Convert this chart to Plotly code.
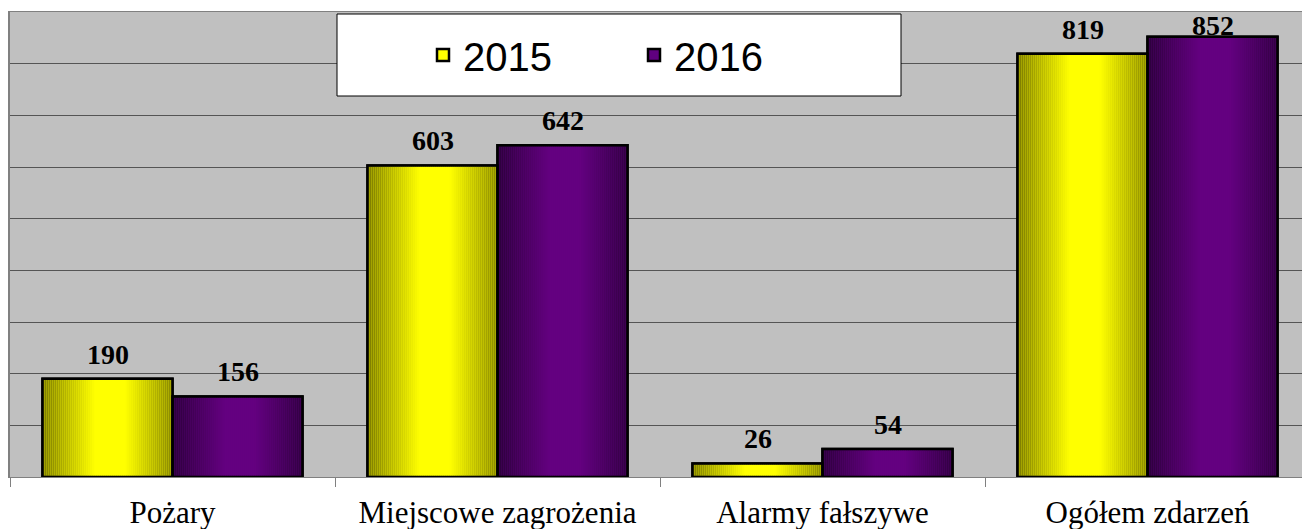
import plotly.graph_objects as go

categories = ["Pożary", "Miejscowe zagrożenia", "Alarmy fałszywe", "Ogółem zdarzeń"]
series_names = ["2015", "2016"]
values_2015 = [190, 603, 26, 819]
values_2016 = [156, 642, 54, 852]

series_values = [values_2015, values_2016]
# gradient: (edge colour, centre colour)
gradients = [((128, 128, 0), (255, 255, 0)), ((46, 0, 62), (100, 0, 128))]
solid = ["#FFFF00", "#600080"]
bar_w = 0.4
offsets = [-0.4, 0.0]
N = 65

fig = go.Figure()

for s in range(2):
    fig.add_trace(go.Bar(
        x=categories, y=series_values[s], name=series_names[s],
        width=bar_w, offset=offsets[s],
        marker=dict(color=solid[s], line=dict(color="black", width=2.5)),
        showlegend=True, hoverinfo="skip",
    ))

for s in range(2):
    (e, c) = gradients[s]
    for k in range(N):
        t = (k + 0.5) / N
        f = max(0.0, 1 - abs(t - 0.52) * 2)
        f = min(1.0, f * 1.3)
        col = tuple(int(round(e[i] + (c[i] - e[i]) * f)) for i in range(3))
        fig.add_trace(go.Bar(
            x=categories, y=series_values[s],
            width=bar_w / N, offset=offsets[s] + k * bar_w / N,
            marker=dict(color="rgb(%d,%d,%d)" % col, line=dict(width=0)),
            showlegend=False, hoverinfo="skip",
        ))

for s in range(2):
    fig.add_trace(go.Bar(
        x=categories, y=series_values[s],
        width=bar_w, offset=offsets[s],
        marker=dict(color="rgba(0,0,0,0)", line=dict(color="black", width=2.5)),
        showlegend=False, hoverinfo="skip",
    ))

annotations = []
for s in range(2):
    for i, v in enumerate(series_values[s]):
        annotations.append(dict(
            x=i + offsets[s] + bar_w / 2, y=min(v + 48, 873), xref="x", yref="y",
            text="<b>%d</b>" % v, showarrow=False, yanchor="middle",
            font=dict(family="Liberation Serif", size=28, color="black"),
        ))

fig.update_layout(
    width=1302, height=529,
    margin=dict(l=10, r=0, t=12, b=52),
    paper_bgcolor="white", plot_bgcolor="#C0C0C0",
    barmode="overlay",
    annotations=annotations,
    shapes=[dict(type="rect", xref="paper", yref="paper",
                 x0=(337 - 10) / 1292, x1=(901 - 10) / 1292,
                 y0=(477 - 96) / 465, y1=(477 - 14) / 465,
                 fillcolor="white", line=dict(color="black", width=1), layer="above")],
    legend=dict(orientation="h", x=(423 - 10) / 1292, xanchor="left",
                y=(477 - 55) / 465, yanchor="middle",
                bgcolor="rgba(0,0,0,0)", borderwidth=0,
                font=dict(family="Liberation Sans", size=40, color="black"),
                entrywidth=166, entrywidthmode="pixels", traceorder="normal"),
    xaxis=dict(range=[-0.5, 3.4754], showgrid=False, showline=True, linecolor="#808080",
               linewidth=1, mirror=True, ticks="outside", tickson="boundaries",
               ticklen=9, tickcolor="#808080", ticklabelstandoff=8,
               tickfont=dict(family="Liberation Serif", size=31, color="black"),
               automargin=False),
    yaxis=dict(range=[0, 900], dtick=100, showgrid=True, gridcolor="#555555", gridwidth=1,
               showline=True, linecolor="#808080", linewidth=2, showticklabels=False,
               ticks="", zeroline=False, automargin=False),
)

fig.write_html("out.html", config={"displayModeBar": False},
               post_script="document.body.style.margin='0';document.body.style.overflow='hidden';")
